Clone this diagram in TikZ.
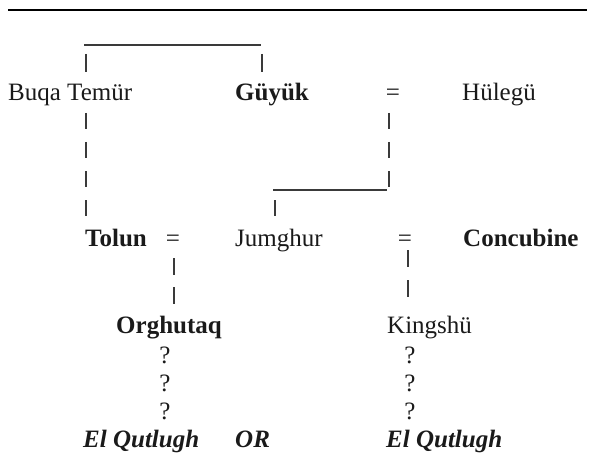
\documentclass[tikz,border=0pt]{standalone}
\usepackage{fontspec}
\setmainfont{Liberation Serif}
\usetikzlibrary{positioning}
\definecolor{inkblack}{HTML}{1A1A1A}
\definecolor{bargray}{HTML}{3A3A3A}

\tikzset{
  person/.style={font=\fontsize{25}{30}\selectfont, inner sep=0pt, anchor=base west, text=inkblack},
  royal/.style={person, font=\fontsize{25}{30}\selectfont\bfseries},
  heir/.style={person, font=\fontsize{25}{30}\selectfont\bfseries\itshape},
  marks/.style={person, anchor=base},
  bar/.style={bargray, line width=1.8pt},
  barrun/.style={bar, dash pattern=on 16pt off 13pt},
  underline/.style={bargray, line width=1.2pt},
}

\begin{document}
\begin{tikzpicture}[x=1pt, y=-1pt]
      \useasboundingbox (0,0) rectangle (589,468);
      \draw[black, line width=1.8pt] (8,10) -- (587,10);

      % names, row by row
      \node[person] (buqa) at (8,101) {Buqa Temür};
      \node[royal] (guyuk) at (235,101) {Güyük};
      \node[marks] (wedA) at (393,101) {=};
      \node[person] (hulegu) at (462,101) {Hülegü};

      \node[royal] (tolun) at (85,246) {Tolun};
      \node[marks] (wedB) at (173,246) {=};
      \node[person] (jumghur) at (235,246) {Jumghur};
      \node[marks] (wedC) at (405,246) {=};
      \node[royal] (concubine) at (463,246) {Concubine};

      \node[royal] (orghutaq) at (116,333) {Orghutaq};
      \node[person] (kingshu) at (387,333) {Kingshü};

      \foreach \y [count=\i] in {363,391,419} {
        \node[marks] (qL\i) at (165,\y) {?};
        \node[marks] (qR\i) at (410,\y) {?};
      }

      \node[heir] (elqL) at (83,447) {El Qutlugh};
      \node[heir] (either) at (235,447) {OR};
      \node[heir] (elqR) at (386,447) {El Qutlugh};

      % line ends
      \coordinate (sibL) at (84,45);
      \coordinate (sibR) at (261,45);
      \coordinate (buqaUp) at (86,54);
      \coordinate (buqaTop) at (86,72);
      \coordinate (guyukUp) at (262,54);
      \coordinate (guyukTop) at (262,72);
      \coordinate (buqaDown) at (86,113);
      \coordinate (tolunTop) at (86,216);
      \coordinate (wedADown) at (389,113);
      \coordinate (wedAEnd) at (389,187);
      \coordinate (joinR) at (387,190);
      \coordinate (joinL) at (273,190);
      \coordinate (jumUp) at (275,200);
      \coordinate (jumTop) at (275,216);
      \coordinate (wedBDown) at (174,258);
      \coordinate (orgTop) at (174,304);
      \coordinate (wedCDown) at (408,250);
      \coordinate (kingTop) at (408,297);

      \draw[underline] (sibL) -- (sibR);
      \draw[bar] (buqaUp) -- (buqaTop);
      \draw[bar] (guyukUp) -- (guyukTop);
      \draw[barrun] (buqaDown) -- (tolunTop);
      \draw[barrun] (wedADown) -- (wedAEnd);
      \draw[underline] (joinL) -- (joinR);
      \draw[bar] (jumUp) -- (jumTop);
      \draw[bar, dash pattern=on 17pt off 12pt] (wedBDown) -- (orgTop);
      \draw[bar, dash pattern=on 17pt off 13pt] (wedCDown) -- (kingTop);
\end{tikzpicture}
\end{document}
